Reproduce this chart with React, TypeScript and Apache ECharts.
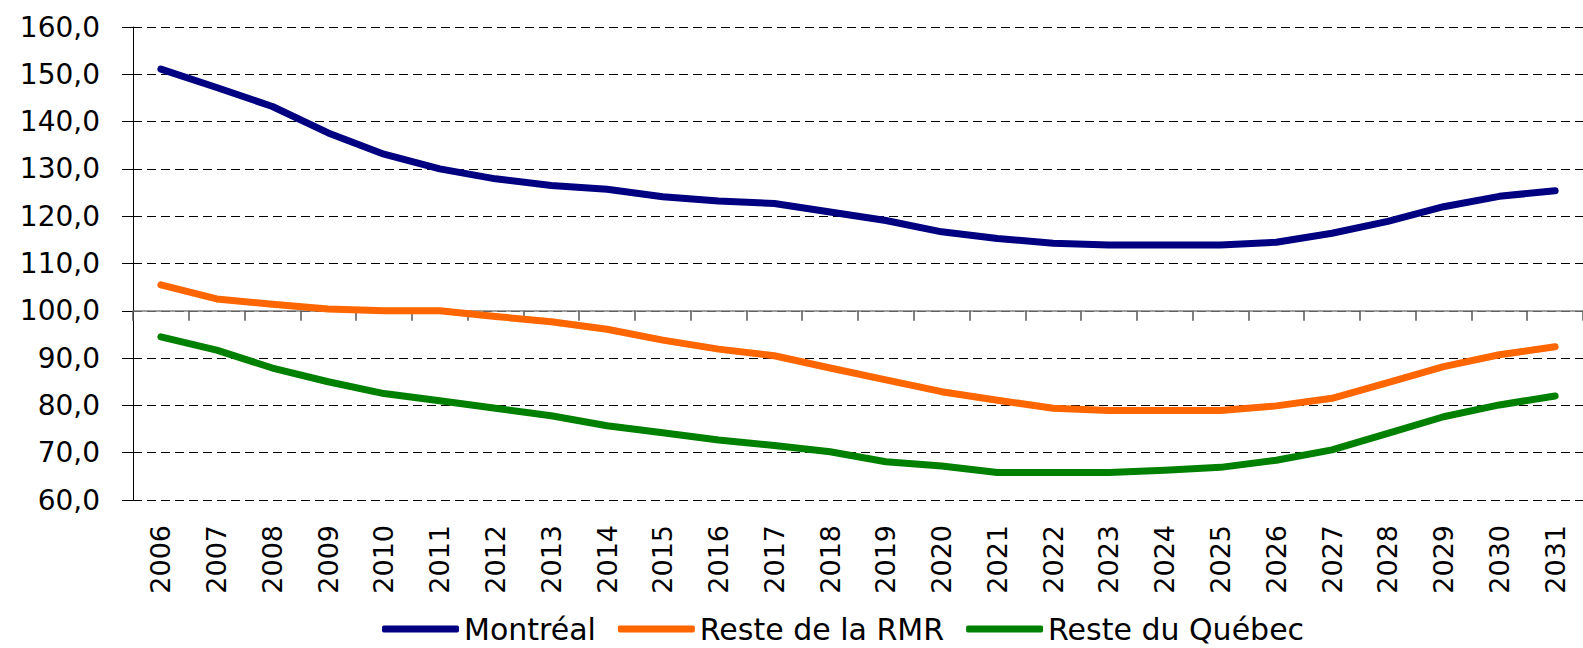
import React, { useEffect, useRef } from "react";
import * as echarts from "echarts";

const years = [
  "2006", "2007", "2008", "2009", "2010", "2011", "2012", "2013", "2014",
  "2015", "2016", "2017", "2018", "2019", "2020", "2021", "2022", "2023",
  "2024", "2025", "2026", "2027", "2028", "2029", "2030", "2031",
];

const montreal = [
  151.1, 147.2, 143.2, 137.6, 133.1, 130.0, 127.9, 126.5, 125.7, 124.1, 123.2,
  122.7, 120.9, 119.1, 116.7, 115.3, 114.3, 113.9, 113.9, 113.9, 114.5, 116.4,
  118.9, 122.0, 124.2, 125.4,
];

const resteRMR = [
  105.5, 102.5, 101.4, 100.4, 100.0, 100.0, 98.8, 97.7, 96.1, 93.8, 91.9, 90.5,
  87.9, 85.4, 82.9, 81.1, 79.4, 78.9, 78.9, 78.9, 79.9, 81.5, 84.8, 88.2, 90.7,
  92.4,
];

const resteQuebec = [
  94.5, 91.7, 87.9, 85.0, 82.5, 81.0, 79.4, 77.8, 75.7, 74.2, 72.7, 71.5, 70.2,
  68.1, 67.2, 65.8, 65.8, 65.8, 66.3, 66.9, 68.4, 70.6, 74.1, 77.6, 80.1, 82.0,
];

const seriesNames = ["Montréal", "Reste de la RMR", "Reste du Québec"];
const seriesColors = ["#000080", "#FF6600", "#008000"];

const FONT = "'DejaVu Sans', sans-serif";

export default function App() {
  const ref = useRef<HTMLDivElement>(null);

  useEffect(() => {
    if (!ref.current) return;
    const chart = echarts.init(ref.current, null, { renderer: "svg" });
    const gridTop = 27;
    const gridHeight = 473;
    const yMin = 60;
    const yMax = 160;
    const crossValue = 100;
    const crossOffset = -((crossValue - yMin) / (yMax - yMin)) * gridHeight;

    const dataSets = [montreal, resteRMR, resteQuebec];

    chart.setOption({
      animation: false,
      backgroundColor: "#ffffff",
      grid: {
        left: 133,
        top: gridTop,
        width: 1464.6,
        height: gridHeight,
        containLabel: false,
      },
      legend: {
        left: 382,
        top: 614,
        padding: 0,
        icon: "roundRect",
        itemWidth: 77,
        itemHeight: 7,
        itemGap: 22,
        data: seriesNames,
        textStyle: {
          fontFamily: FONT,
          fontSize: 30,
          lineHeight: 30,
          color: "#000",
        },
      },
      xAxis: [
        {
          type: "category",
          data: years,
          boundaryGap: true,
          axisLine: { show: false, onZero: false },
          axisTick: { show: false },
          splitLine: { show: false },
          axisLabel: {
            rotate: 90,
            margin: 25,
            fontFamily: FONT,
            fontSize: 27,
            color: "#000",
            interval: 0,
          },
        },
        {
          type: "category",
          data: years,
          boundaryGap: true,
          position: "bottom",
          offset: crossOffset,
          axisLine: {
            show: true,
            onZero: false,
            lineStyle: { color: "#808080", width: 1.5 },
          },
          axisTick: {
            show: true,
            length: 10,
            interval: 0,
            lineStyle: { color: "#555", width: 1.5 },
          },
          axisLabel: { show: false },
          splitLine: { show: false },
        },
      ],
      yAxis: {
        type: "value",
        min: yMin,
        max: yMax,
        interval: 10,
        axisLine: { show: true, lineStyle: { color: "#000", width: 1 } },
        axisTick: { show: true, length: 11, lineStyle: { color: "#000" } },
        axisLabel: {
          margin: 33,
          fontFamily: FONT,
          fontSize: 28,
          color: "#000",
          formatter: (v: number) => v.toFixed(1).replace(".", ","),
        },
        splitLine: {
          show: true,
          lineStyle: { color: "#000", width: 1, type: [9, 5] },
        },
      },
      series: seriesNames.map((name, i) => ({
        name,
        type: "line",
        xAxisIndex: 0,
        data: dataSets[i],
        symbol: "none",
        color: seriesColors[i],
        lineStyle: { color: seriesColors[i], width: 7, cap: "round", join: "round" },
        itemStyle: { color: seriesColors[i] },
      })),
    });

    return () => chart.dispose();
  }, []);

  return (
    <div
      ref={ref}
      style={{ position: "absolute", left: 0, top: 0, width: 1583, height: 648 }}
    />
  );
}
